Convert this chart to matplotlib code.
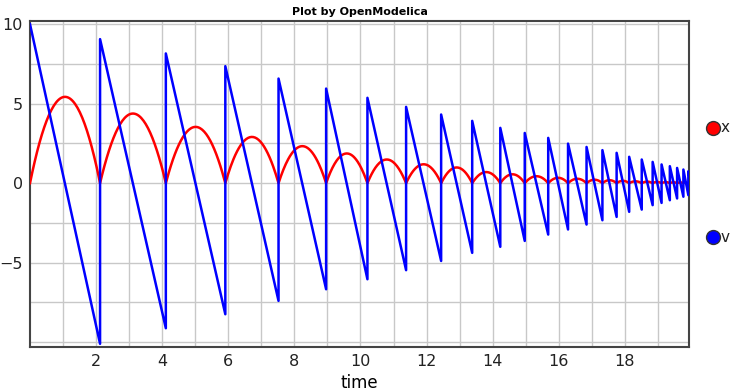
import numpy as np
import matplotlib
matplotlib.use("Agg")
import matplotlib.pyplot as plt
from matplotlib.lines import Line2D

# ---- data ----
v_start = 10.0
bounce_t = [2.12, 4.11, 5.91, 7.52, 8.96, 10.21, 11.38, 12.44, 13.38, 14.23,
            14.97, 15.68, 16.28, 16.84, 17.32, 17.75, 18.13, 18.51, 18.84,
            19.11, 19.36, 19.58, 19.77, 19.92]
v_before = [-10.1, -9.12, -8.24, -7.40, -6.67, -6.04, -5.47, -4.89, -4.38, -4.0,
            -3.63, -3.23, -2.91, -2.60, -2.33, -2.12, -1.80, -1.66, -1.38,
            -1.24, -1.07, -0.96, -0.85, -0.75]
v_after = [9.06, 8.16, 7.36, 6.58, 5.95, 5.37, 4.80, 4.32, 3.92, 3.48,
           3.16, 2.85, 2.49, 2.28, 2.08, 1.91, 1.66, 1.49, 1.34,
           1.18, 1.07, 0.96, 0.86, 0.75]
t_end = 19.95
v_end = 0.45
peak_x = [5.43, 4.38, 3.54, 2.91, 2.33, 1.87, 1.49, 1.19, 0.99, 0.70,
          0.56, 0.44, 0.34, 0.28, 0.22, 0.19, 0.15, 0.12, 0.10, 0.08,
          0.07, 0.06, 0.05, 0.04, 0.02]

# ---- build v (piecewise linear) ----
vt = [0.0]
vv = [v_start]
for t, a, b in zip(bounce_t, v_before, v_after):
    vt += [t, t]
    vv += [a, b]
vt.append(t_end)
vv.append(v_end)

# ---- build x (arcs between bounces through read peaks) ----
edges = [0.0] + bounce_t + [t_end]
xt, xv = [], []
for i in range(len(edges) - 1):
    a, b = edges[i], edges[i + 1]
    h = peak_x[i]
    tt = np.linspace(a, b, 60)
    xt.extend(tt)
    xv.extend(4 * h * (tt - a) * (b - tt) / (b - a) ** 2)

fig = plt.figure(figsize=(7.36, 3.92), dpi=100)
ax = fig.add_axes([30 / 736, 45 / 392, 659 / 736, 326 / 392])

ax.plot(xt, xv, color="#ff0000", lw=1.8, zorder=3)
ax.plot(vt, vv, color="#0000ff", lw=1.8, zorder=4)

ax.set_xlim(0, 19.94)
ax.set_ylim(-10.3, 10.2)
ax.set_xticks(np.arange(1, 20, 1), minor=True)
ax.set_xticks([2, 4, 6, 8, 10, 12, 14, 16, 18])
ax.set_yticks([-10, -7.5, -2.5, 2.5, 7.5], minor=True)
ax.set_yticks([-5, 0, 5, 10])
ax.grid(True, which="both", color="#c8c8c8", lw=1.0, zorder=0)
ax.tick_params(which="both", length=0, labelsize=11.5, pad=5, colors="#222222")
for s in ax.spines.values():
    s.set_color("#444444")
    s.set_linewidth(1.5)

ax.set_title("Plot by OpenModelica", fontsize=8, fontweight="bold", pad=4)
ax.set_xlabel("time", fontsize=12, labelpad=4)

# legend on the right
for yy, col, lab in [(128, "#ff0000", "x"), (237, "#0000ff", "v")]:
    fig.add_artist(Line2D([713 / 736], [1 - yy / 392], marker="o", markersize=10,
                          markerfacecolor=col, markeredgecolor="#333333",
                          markeredgewidth=1, linestyle="none", transform=fig.transFigure))
    fig.text(721 / 736, 1 - yy / 392, lab, fontsize=11, va="center", ha="left", color="#222222")

fig.savefig("out.png", dpi=100)
